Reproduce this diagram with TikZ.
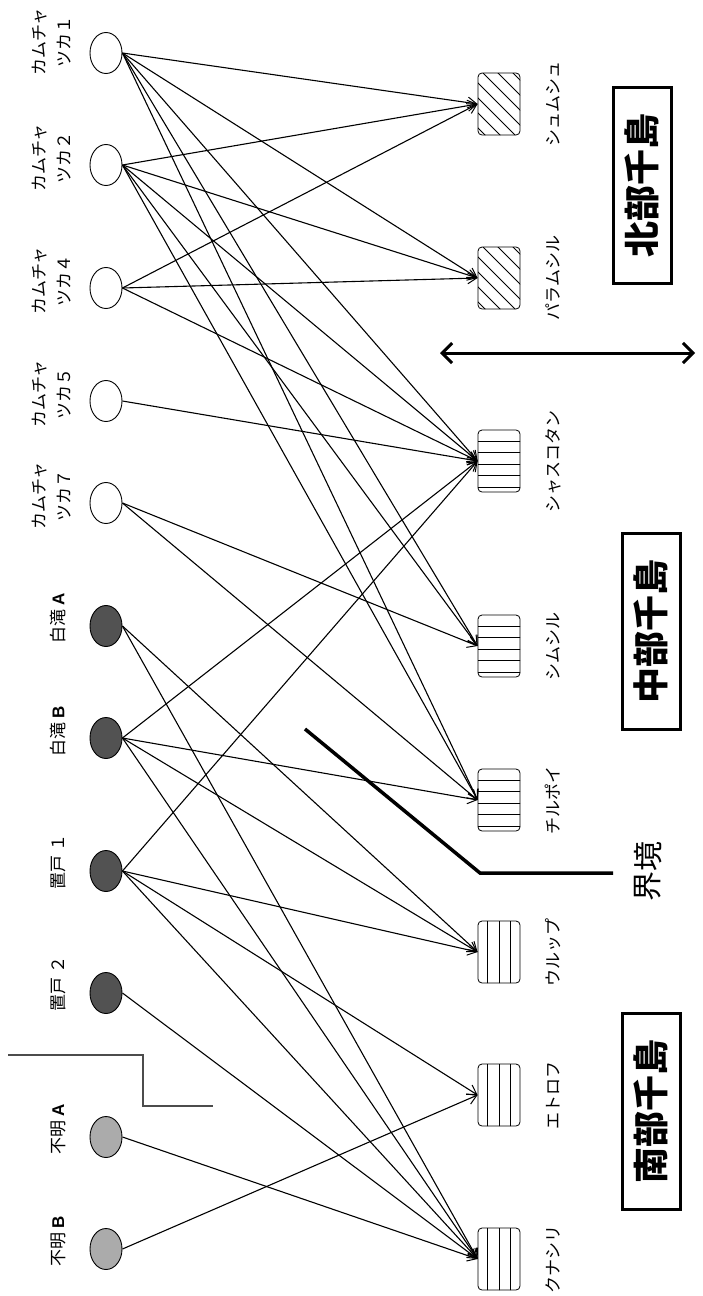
\documentclass[tikz,border=0pt]{standalone}
\usepackage{fontspec}
\setmainfont{Noto Sans CJK JP}
\newfontfamily\lat{Liberation Sans}
\usetikzlibrary{arrows.meta,shapes.geometric}
\begin{document}
\begin{tikzpicture}[x=1pt,y=-1pt,
  src/.style={ellipse,draw,line width=0.9pt,minimum width=32pt,minimum height=41pt,inner sep=0pt},
  wsrc/.style={src,fill=white},
  dsrc/.style={src,fill=black!68},
  lsrc/.style={src,fill=black!33},
  tgt/.style={rectangle,draw,line width=0.8pt,rounded corners=4pt,minimum width=42pt,minimum height=62pt,inner sep=0pt},
  diagbox/.style={tgt,path picture={\foreach \i in {-5,...,5}
     \draw[line width=1pt,shift={(path picture bounding box.center)}] (\i*15-40,-40) -- ++(80,80);}},
  hbox/.style={tgt,path picture={\foreach \d in {-20,-8.5,3,14.5,26}
     \draw[line width=0.9pt,shift={(path picture bounding box.center)}] (-25,\d) -- (25,\d);}},
  vbox/.style={tgt,path picture={\foreach \d in {-11.5,0,11.5}
     \draw[line width=0.9pt,shift={(path picture bounding box.center)}] (\d,-35) -- (\d,35);}},
  lbl/.style={rotate=90,font=\fontsize{17}{25}\selectfont,align=center,inner sep=0pt},
  big/.style={rotate=90,draw,line width=3pt,font=\fontsize{36}{36}\selectfont\bfseries,minimum width=196pt,minimum height=58pt,inner sep=0pt},
  edge/.style={line width=1.1pt,-{Straight Barb[length=9pt,width=11pt,line width=1pt]}},
]
\useasboundingbox (0,0) rectangle (703,1296);
% sources
\node[wsrc] (k1) at (106,53) {};
\node[wsrc] (k2) at (106,165) {};
\node[wsrc] (k4) at (106,288) {};
\node[wsrc] (k5) at (106,401) {};
\node[wsrc] (k7) at (106,503) {};
\node[dsrc] (sa) at (106,626) {};
\node[dsrc] (sb) at (106,738) {};
\node[dsrc] (o1) at (106,871) {};
\node[dsrc] (o2) at (106,993) {};
\node[lsrc] (fa) at (106,1137) {};
\node[lsrc] (fb) at (106,1249) {};
% source labels
\node[lbl] (lk1) at (52,42) {カムチャ\\ツカ１};
\node[lbl] (lk2) at (52,158) {カムチャ\\ツカ２};
\node[lbl] (lk4) at (52,281) {カムチャ\\ツカ４};
\node[lbl] (lk5) at (52,394) {カムチャ\\ツカ５};
\node[lbl] (lk7) at (52,496) {カムチャ\\ツカ７};
\node[lbl] (lsa) at (58,618) {白滝 {\lat\bfseries A}};
\node[lbl] (lsb) at (58,731) {白滝 {\lat\bfseries B}};
\node[lbl] (lo1) at (58,862) {置戸 １};
\node[lbl] (lo2) at (58,984) {置戸 ２};
\node[lbl] (lfa) at (58,1129) {不明 {\lat\bfseries A}};
\node[lbl] (lfb) at (58,1241) {不明 {\lat\bfseries B}};
% targets
\node[diagbox] (shum) at (499,104) {};
\node[diagbox] (para) at (499,278) {};
\node[hbox] (shas) at (499,461) {};
\node[hbox] (sims) at (499,646) {};
\node[hbox] (chir) at (499,800) {};
\node[vbox] (urup) at (499,952) {};
\node[vbox] (etor) at (499,1095) {};
\node[vbox] (kuna) at (499,1259) {};
% target labels
\node[lbl] (lshum) at (553,104) {シュムシュ};
\node[lbl] (lpara) at (553,278) {パラムシル};
\node[lbl] (lshas) at (553,461) {シャスコタン};
\node[lbl] (lsims) at (553,646) {シムシル};
\node[lbl] (lchir) at (553,800) {チルポイ};
\node[lbl] (lurup) at (553,952) {ウルップ};
\node[lbl] (letor) at (553,1095) {エトロフ};
\node[lbl] (lkuna) at (553,1259) {クナシリ};
% region labels
\node[big] (north) at (642,185) {北部千島};
\node[big] (mid) at (651,631) {中部千島};
\node[big] (south) at (651,1111) {南部千島};
\node[rotate=90,font=\fontsize{30}{30}\selectfont,inner sep=0pt] (kyo) at (648,856) {境};
\node[rotate=90,font=\fontsize{30}{30}\selectfont,inner sep=0pt] (kai) at (648,886) {界};
% edges
\foreach \s/\t in {k1/shum,k1/para,k1/shas,k1/sims,k1/chir,
                   k2/shum,k2/para,k2/shas,k2/sims,k2/chir,
                   k4/shum,k4/para,k4/shas,k5/shas,k7/sims,k7/chir,
                   sa/urup,sa/kuna,sb/shas,sb/chir,sb/urup,sb/kuna,
                   o1/shas,o1/urup,o1/etor,o1/kuna,o2/kuna,fa/kuna,fb/etor}
  \draw[edge] (\s.east) -- (\t.west);
% boundary line
\coordinate (b1) at (305,729);
\coordinate (b2) at (480,873);
\coordinate (b3) at (613,873);
\draw[line width=3.5pt] (b1) -- (b2) -- (b3);
% step line
\coordinate (s1) at (8,1055);
\coordinate (s2) at (143,1055);
\coordinate (s3) at (143,1106);
\coordinate (s4) at (213,1106);
\draw[line width=1.5pt,black!70] (s1) -- (s2) -- (s3) -- (s4);
% double arrow
\coordinate (da) at (440,353);
\coordinate (db) at (695,353);
\draw[line width=3pt,{Straight Barb[length=10pt,width=20pt,line width=3pt]}-{Straight Barb[length=10pt,width=20pt,line width=3pt]}] (da) -- (db);
\end{tikzpicture}
\end{document}
